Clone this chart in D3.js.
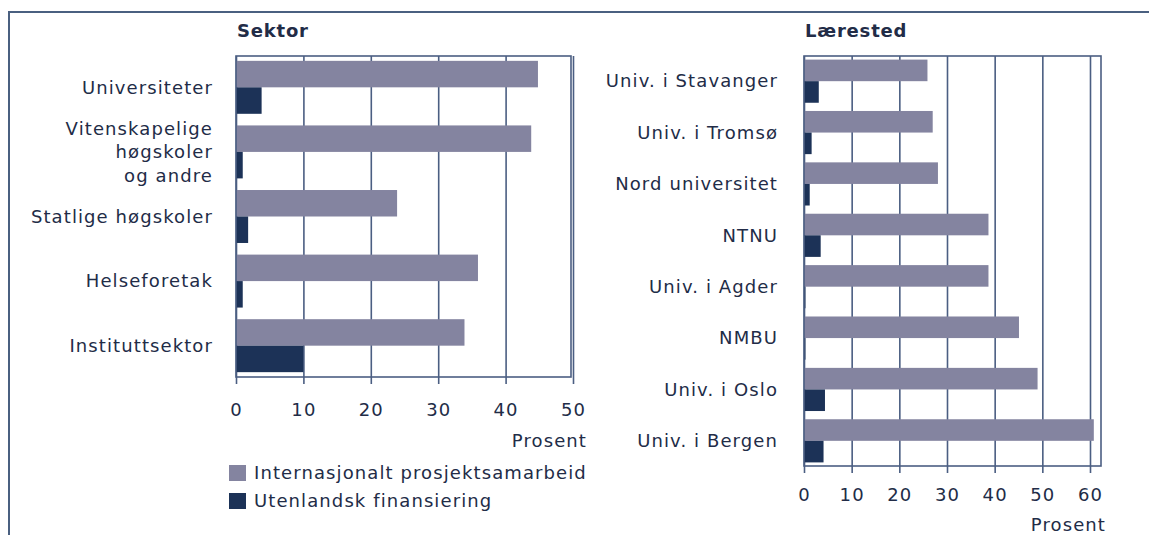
<!DOCTYPE html>
<html lang="no">
<head>
<meta charset="utf-8">
<title>Sektor og lærested</title>
<script src="https://cdnjs.cloudflare.com/ajax/libs/d3/7.8.5/d3.min.js"></script>
<style>
    body { margin: 0; background: #fff; }
    svg text {
        font-family: "DejaVu Sans", Verdana, sans-serif;
        font-size: 18px;
        letter-spacing: 1.1px;
        fill: #222c47;
    }
    .title { font-weight: bold; letter-spacing: 0.8px; }
    .grid line, .axis line, .axis path { stroke: #4b5e82; stroke-width: 1.6; }
</style>
</head>
<body>
<div id="chart"></div>
<script>
// Sektor (venstre panel)
var sektorKategorier = ["Universiteter", "Vitenskapelige\nhøgskoler\nog andre", "Statlige høgskoler", "Helseforetak", "Instituttsektor"];
var sektorInternasjonalt = [44.8, 43.8, 23.9, 35.9, 33.9];
var sektorUtenlandsk = [3.8, 1.0, 1.8, 1.0, 10.0];
var sektorTicks = [0, 10, 20, 30, 40, 50];

// Lærested (høyre panel)
var larestedKategorier = ["Univ. i Stavanger", "Univ. i Tromsø", "Nord universitet", "NTNU", "Univ. i Agder", "NMBU", "Univ. i Oslo", "Univ. i Bergen"];
var larestedInternasjonalt = [25.9, 27.0, 28.1, 38.7, 38.7, 45.1, 49.0, 60.8];
var larestedUtenlandsk = [3.1, 1.6, 1.2, 3.5, 0.3, 0.3, 4.4, 4.1];
var larestedTicks = [0, 10, 20, 30, 40, 50, 60];

var serieNavn = ["Internasjonalt prosjektsamarbeid", "Utenlandsk finansiering"];
var farger = ["#8484a0", "#1c3257"];

var W = 1149, H = 535;
var svg = d3.select("#chart").append("svg")
    .attr("width", W)
    .attr("height", H);

// ytre ramme (topp og venstre kant)
svg.append("path")
    .attr("d", d3.line()([[9, H], [9, 12], [W, 12]]))
    .attr("fill", "none")
    .attr("stroke", "#4a6080")
    .attr("stroke-width", 2);

function panel(opts) {
    var x = d3.scaleLinear().domain([0, opts.xMax]).range([opts.left, opts.right]);
    var y = d3.scaleBand().domain(opts.kategorier).range([opts.top, opts.bottom])
        .paddingInner(opts.padIn).paddingOuter(opts.padOut);
    var h = opts.bottom - opts.top;

    svg.append("text").attr("class", "title")
        .attr("x", opts.left + 1).attr("y", opts.top - 19)
        .text(opts.tittel);

    // rutenett
    svg.append("g").attr("class", "grid")
        .attr("transform", "translate(0," + opts.bottom + ")")
        .call(d3.axisBottom(x).tickValues(opts.ticks).tickSize(-h).tickFormat(""))
        .call(function (g) { g.select(".domain").remove(); });

    var bw = y.bandwidth() / 2;
    var rader = opts.kategorier.map(function (k, i) {
        return { k: k, a: opts.serieA[i], b: opts.serieB[i] };
    });

    svg.append("g").selectAll("rect").data(rader).join("rect")
        .attr("x", x(0)).attr("y", function (d) { return y(d.k); })
        .attr("width", function (d) { return x(d.a) - x(0); })
        .attr("height", bw)
        .attr("fill", farger[0]);

    svg.append("g").selectAll("rect").data(rader).join("rect")
        .attr("x", x(0)).attr("y", function (d) { return y(d.k) + bw; })
        .attr("width", function (d) { return x(d.b) - x(0); })
        .attr("height", bw)
        .attr("fill", farger[1]);

    // ramme rundt plottet
    svg.append("rect")
        .attr("x", opts.left).attr("y", opts.top)
        .attr("width", opts.frameRight - opts.left).attr("height", h)
        .attr("fill", "none").attr("stroke", "#4b5e82").attr("stroke-width", 1.6);

    // x-akse
    svg.append("g").attr("class", "axis")
        .attr("transform", "translate(0," + opts.bottom + ")")
        .call(d3.axisBottom(x).tickValues(opts.ticks).tickSize(7).tickSizeOuter(0).tickPadding(opts.tickPad))
        .call(function (g) {
            g.select(".domain").remove();
            g.selectAll("text").style("font-family", null).style("font-size", null).attr("fill", null);
        });

    svg.append("text")
        .attr("x", opts.prosentX).attr("y", opts.bottom + opts.prosentDy)
        .attr("text-anchor", "end")
        .text("Prosent");

    // kategorietiketter, med linjeskift
    var lx = opts.left - opts.labelGap;
    var lab = svg.append("g").selectAll("text").data(opts.kategorier).join("text")
        .attr("text-anchor", "end")
        .attr("x", lx)
        .attr("y", function (d) { return y(d) + y.bandwidth() / 2; });
    lab.each(function (d) {
        var linjer = d.split("\n");
        var t = d3.select(this);
        linjer.forEach(function (l, i) {
            t.append("tspan")
                .attr("x", lx)
                .attr("dy", i === 0 ? (0.35 - (linjer.length - 1) * 0.65) + "em" : "1.3em")
                .text(l);
        });
    });
}

panel({
    tittel: "Sektor",
    kategorier: sektorKategorier, serieA: sektorInternasjonalt, serieB: sektorUtenlandsk,
    ticks: sektorTicks, xMax: 50,
    left: 236, right: 573, frameRight: 571, top: 56, bottom: 377,
    padIn: 0.18, padOut: 0.075, tickPad: 19, labelGap: 23,
    prosentX: 587, prosentDy: 70
});

panel({
    tittel: "Lærested",
    kategorier: larestedKategorier, serieA: larestedInternasjonalt, serieB: larestedUtenlandsk,
    ticks: larestedTicks, xMax: 60,
    left: 804, right: 1090, frameRight: 1101, top: 56, bottom: 466,
    padIn: 0.16, padOut: 0.07, tickPad: 15, labelGap: 26,
    prosentX: 1106, prosentDy: 65
});

// forklaring
var leg = svg.append("g").selectAll("g").data(serieNavn).join("g")
    .attr("transform", function (d, i) { return "translate(229," + (465 + i * 28) + ")"; });
leg.append("rect").attr("width", 17).attr("height", 16)
    .attr("fill", function (d, i) { return farger[i]; });
leg.append("text").attr("x", 25).attr("y", 8).attr("dy", "0.35em").text(function (d) { return d; });
</script>
</body>
</html>
